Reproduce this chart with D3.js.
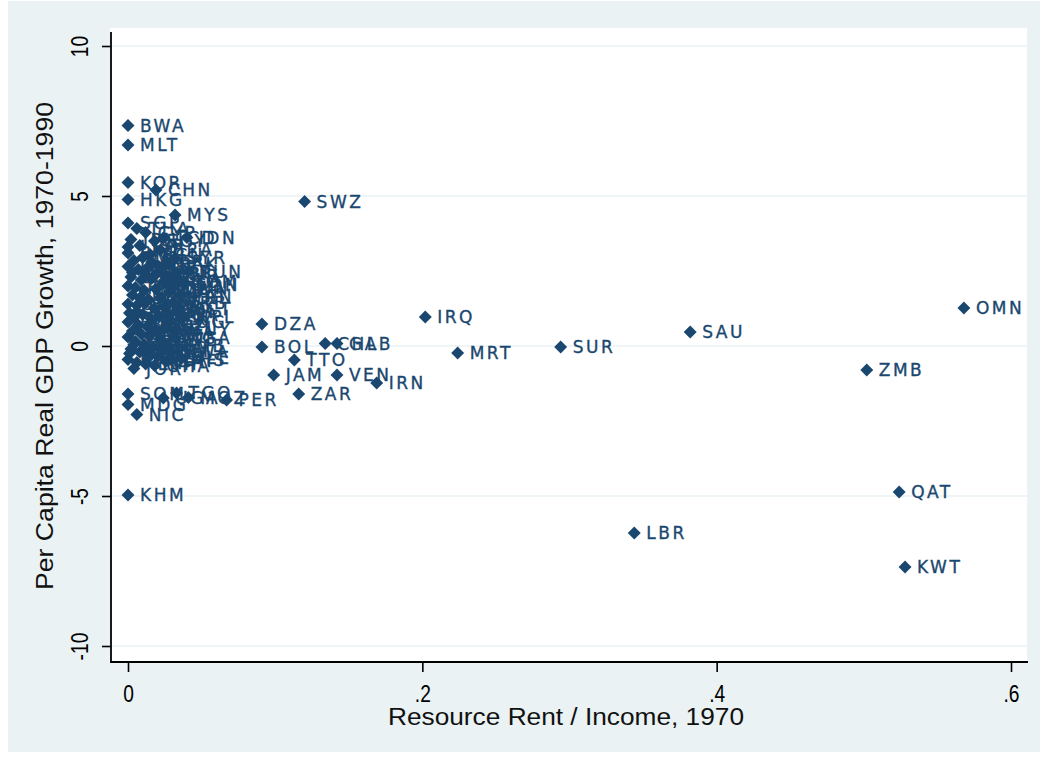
<!DOCTYPE html>
<html>
<head>
<meta charset="utf-8">
<script src="https://cdn.jsdelivr.net/npm/d3@7/dist/d3.min.js"></script>
<style>
  html, body { margin: 0; padding: 0; background: #ffffff; }
  svg { display: block; }
</style>
</head>
<body>
<svg id="chart" width="1044" height="761"></svg>
<script>
// Country codes with resource rent share (1970) and per-capita real GDP growth (1970-1990)
const countries = [
  "BWA","MLT","KOR","HKG","CHN","MYS","IDN","SWZ",
  "SGP","THA","CYP","JPN","LSO","ISR","EGY","TCD","NER","SYR","TUN",
  "PRT","ECU","BRA","GRC","MUS","PAK","ITA","IRL","FIN","NOR","TUR",
  "ESP","AUT","BEL","IND","LKA","SDN","CAN","FRA","DEU","COL","MAR","PAN",
  "ISL","LUX","DNK","CMR","BRB","GBR","NLD","USA","AUS","PRY","FJI",
  "SWE","CHE","DOM","MEX","NPL","CRI","COG","PHL","BGD","BDI","CIV","NZL",
  "GUY","URY","GTM","MWI","NGA","ZWE","KEN","SEN","PNG","ARG","GMB",
  "TZA","BEN","HND","RWA","MLI","HTI","SLE","SLV","BFA","CAF","ZAF",
  "ETH","GHA","JOR",
  "GIN","GNB","CPV","COM","BLZ","LCA","VCT","GRD","DMA","BHS","SYC","TWN",
  "SOM","TGO","MDG","UGA","MOZ","NIC","PER","KHM",
  "DZA","BOL","CHL","GAB","TTO","JAM","VEN","IRN","ZAR",
  "IRQ","MRT","SUR","SAU","OMN","ZMB","QAT","LBR","KWT"
];
const rentShare = [
  0.000,0.000,0.000,0.000,0.019,0.032,0.040,0.120,
  0.000,0.006,0.012,0.002,0.000,0.008,0.018,0.024,0.016,0.032,0.041,
  0.000,0.015,0.022,0.004,0.010,0.027,0.000,0.007,0.013,0.020,0.026,
  0.002,0.009,0.016,0.024,0.030,0.038,0.000,0.005,0.011,0.019,0.028,0.036,
  0.003,0.008,0.014,0.022,0.031,0.000,0.006,0.012,0.018,0.025,0.033,
  0.001,0.004,0.010,0.016,0.038,0.021,0.028,0.000,0.007,0.013,0.019,0.025,
  0.033,0.003,0.009,0.015,0.032,0.022,0.000,0.005,0.011,0.017,0.027,
  0.002,0.008,0.014,0.030,0.023,0.001,0.036,0.020,0.000,0.006,0.026,
  0.012,0.018,0.004,
  0.003,0.012,0.021,0.035,0.006,0.027,0.035,0.004,0.020,0.030,0.013,0.029,
  0.000,0.033,0.000,0.024,0.041,0.006,0.067,0.000,
  0.091,0.091,0.134,0.142,0.113,0.099,0.142,0.169,0.116,
  0.202,0.224,0.294,0.382,0.568,0.502,0.524,0.344,0.528
];
const growth = [
  7.35,6.70,5.45,4.88,5.20,4.37,3.62,4.82,
  4.10,3.92,3.78,3.55,3.30,3.35,3.50,3.60,2.80,2.93,2.48,
  3.10,3.05,3.20,2.85,2.95,2.75,2.65,2.55,2.60,2.45,2.35,
  2.30,2.20,2.25,2.10,2.20,2.05,2.00,1.95,1.85,1.90,1.80,1.67,
  1.70,1.60,1.55,1.62,1.45,1.40,1.35,1.45,1.25,1.30,1.15,
  1.10,0.95,1.05,0.90,0.97,1.00,0.80,0.80,0.70,0.65,0.55,0.60,
  0.55,0.50,0.40,0.35,0.27,0.20,0.30,0.15,0.05,-0.05,0.00,
  -0.10,-0.20,-0.30,-0.20,-0.15,-0.25,-0.40,-0.35,-0.45,-0.55,-0.50,
  -0.60,-0.65,-0.75,
  2.45,2.40,2.65,2.15,1.15,1.05,1.25,0.05,0.45,-0.45,-0.15,1.95,
  -1.60,-1.57,-1.95,-1.73,-1.72,-2.28,-1.80,-4.97,
  0.73,-0.03,0.08,0.08,-0.47,-0.97,-0.97,-1.23,-1.60,
  0.97,-0.23,-0.03,0.47,1.27,-0.80,-4.87,-6.23,-7.37
];

const xTicks = [0, 0.2, 0.4, 0.6];
const xTickLabels = ["0", ".2", ".4", ".6"];
const yTicks = [-10, -5, 0, 5, 10];
const yTickLabels = ["-10", "-5", "0", "5", "10"];

const xTitle = "Resource Rent / Income, 1970";
const yTitle = "Per Capita Real GDP Growth, 1970-1990";

const points = countries.map((c, i) => ({ code: c, x: rentShare[i], y: growth[i] }));

// Layout
const plot = { left: 110, right: 1027, top: 28, bottom: 662 };
const navy = "#1a476f";
const pale = "#eaf2f3";
const sans = "'Liberation Sans', Arial, sans-serif";

const svg = d3.select("#chart");

// Squeeze a text horizontally to mimic a condensed face
function condense(sel, factor) {
  sel.each(function () {
    const len = this.getComputedTextLength();
    d3.select(this).attr("textLength", len * factor).attr("lengthAdjust", "spacingAndGlyphs");
  });
}

// Outer graph region and white plot region
svg.append("rect").attr("x", 8).attr("y", 1).attr("width", 1032).attr("height", 751).attr("fill", pale);
svg.append("rect").attr("x", plot.left).attr("y", plot.top)
  .attr("width", plot.right - plot.left).attr("height", plot.bottom - plot.top).attr("fill", "#ffffff");

const x = d3.scaleLinear().domain([0, 0.6]).range([128, 1011]);
const y = d3.scaleLinear().domain([-10, 10]).range([646, 46]);

// Horizontal gridlines
svg.append("g").selectAll("line").data(yTicks).join("line")
  .attr("x1", plot.left + 1).attr("x2", plot.right)
  .attr("y1", d => y(d)).attr("y2", d => y(d))
  .attr("stroke", pale).attr("stroke-width", 1.6);

// Y axis
const yAxis = d3.axisLeft(y).tickValues(yTicks)
  .tickFormat((d, i) => yTickLabels[i]).tickSize(9).tickPadding(14);
const gy = svg.append("g").attr("transform", `translate(${plot.left + 1},0)`).call(yAxis);
gy.select(".domain").remove();
gy.selectAll(".tick line").attr("stroke", "#000").attr("stroke-width", 1.6);
gy.selectAll(".tick text")
  .attr("font-family", sans).attr("font-size", 24).attr("fill", "#000")
  .attr("x", null).attr("dy", null)
  .attr("text-anchor", "middle")
  .attr("transform", "translate(-23,0) rotate(-90)")
  .call(condense, 0.8);
svg.append("line").attr("x1", plot.left + 1).attr("x2", plot.left + 1)
  .attr("y1", 32).attr("y2", plot.bottom + 1)
  .attr("stroke", "#000").attr("stroke-width", 1.8);

// X axis
const xAxis = d3.axisBottom(x).tickValues(xTicks)
  .tickFormat((d, i) => xTickLabels[i]).tickSize(10).tickPadding(13);
const gx = svg.append("g").attr("transform", `translate(0,${plot.bottom})`).call(xAxis);
gx.select(".domain").remove();
gx.selectAll(".tick line").attr("stroke", "#000").attr("stroke-width", 1.6);
gx.selectAll(".tick text")
  .attr("font-family", sans).attr("font-size", 24).attr("fill", "#000")
  .call(condense, 0.8);
svg.append("line").attr("x1", plot.left).attr("x2", plot.right + 1)
  .attr("y1", plot.bottom).attr("y2", plot.bottom)
  .attr("stroke", "#000").attr("stroke-width", 1.8);

// Axis titles
svg.append("text").text(xTitle)
  .attr("x", 566).attr("y", 725)
  .attr("text-anchor", "middle")
  .attr("font-family", sans).attr("font-size", 23.5).attr("fill", "#111")
  .attr("textLength", 356).attr("lengthAdjust", "spacingAndGlyphs");
svg.append("text").text(yTitle)
  .attr("transform", "translate(53,346) rotate(-90)")
  .attr("text-anchor", "middle")
  .attr("font-family", sans).attr("font-size", 23).attr("fill", "#111")
  .attr("textLength", 488).attr("lengthAdjust", "spacingAndGlyphs");

// Markers and country labels
const marks = svg.append("g");
const diamond = d3.symbol().type(d3.symbolSquare).size(84);
marks.selectAll("path").data(points).join("path")
  .attr("d", diamond)
  .attr("transform", d => `translate(${x(d.x)},${y(d.y)}) rotate(45)`)
  .attr("fill", navy);
marks.selectAll("text").data(points).join("text")
  .text(d => d.code)
  .attr("x", d => x(d.x) + 12)
  .attr("y", d => y(d.y))
  .attr("dy", "0.36em")
  .attr("font-family", "'DejaVu Sans', Verdana, sans-serif")
  .attr("font-size", 17)
  .attr("letter-spacing", 2.5)
  .attr("fill", navy)
  .attr("stroke", navy)
  .attr("stroke-width", 0.35);
</script>
</body>
</html>
